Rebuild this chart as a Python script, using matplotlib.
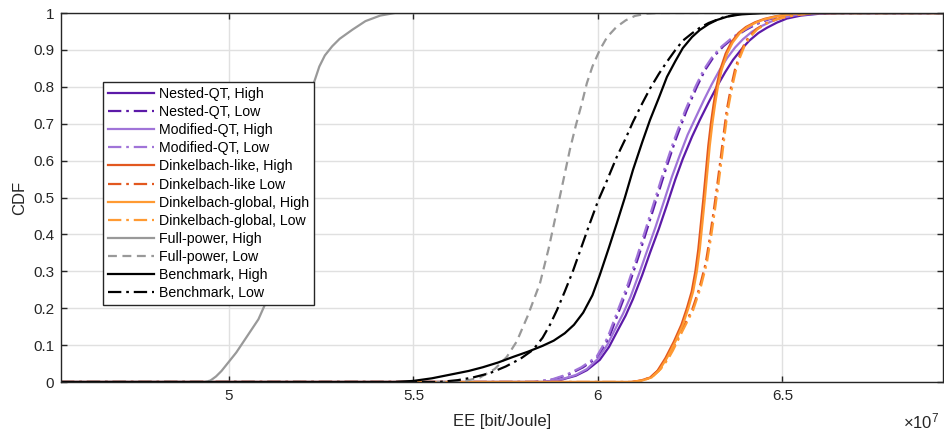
import matplotlib
matplotlib.use("Agg")
import matplotlib.pyplot as plt
import numpy as np

plt.rcParams['font.family'] = ['Liberation Sans', 'DejaVu Sans']
plt.rcParams['mathtext.fontset'] = 'custom'
plt.rcParams['mathtext.rm'] = 'Liberation Sans'

# ---- data (EE in units of 1e7 bit/Joule, CDF) ----
labels = ["Nested-QT, High", "Nested-QT, Low", "Modified-QT, High", "Modified-QT, Low",
          "Dinkelbach-like, High", "Dinkelbach-like Low", "Dinkelbach-global, High",
          "Dinkelbach-global, Low", "Full-power, High", "Full-power, Low",
          "Benchmark, High", "Benchmark, Low"]

nested_high_x = [4.545, 5.85, 5.90, 5.94, 5.97, 6.005, 6.03, 6.051, 6.075, 6.095, 6.12, 6.141, 6.165, 6.187, 6.21, 6.23, 6.255, 6.276, 6.30, 6.322, 6.345, 6.366, 6.39, 6.41, 6.435, 6.458, 6.485, 6.512, 6.55, 6.60, 6.65, 6.935]
nested_high_y = [0, 0, 0.006, 0.017, 0.032, 0.06, 0.095, 0.135, 0.18, 0.225, 0.29, 0.35, 0.415, 0.48, 0.55, 0.605, 0.665, 0.71, 0.758, 0.8, 0.84, 0.873, 0.903, 0.925, 0.946, 0.96, 0.974, 0.985, 0.993, 0.998, 1.0, 1.0]

nested_low_x = [4.545, 5.83, 5.88, 5.92, 5.96, 6.0, 6.03, 6.06, 6.085, 6.11, 6.135, 6.16, 6.185, 6.21, 6.24, 6.268, 6.29, 6.315, 6.34, 6.37, 6.40, 6.43, 6.46, 6.50, 6.55, 6.60, 6.935]
nested_low_y = [0, 0, 0.007, 0.02, 0.04, 0.068, 0.12, 0.2, 0.265, 0.34, 0.42, 0.5, 0.58, 0.655, 0.735, 0.8, 0.845, 0.883, 0.91, 0.935, 0.954, 0.97, 0.982, 0.992, 0.998, 1.0, 1.0]

modified_high_x = [4.545, 5.85, 5.90, 5.94, 5.97, 6.0, 6.025, 6.045, 6.068, 6.088, 6.112, 6.133, 6.156, 6.178, 6.20, 6.22, 6.243, 6.264, 6.287, 6.308, 6.33, 6.35, 6.372, 6.393, 6.417, 6.44, 6.467, 6.495, 6.535, 6.59, 6.64, 6.935]
modified_high_y = [0, 0, 0.007, 0.019, 0.035, 0.063, 0.1, 0.14, 0.185, 0.23, 0.295, 0.355, 0.42, 0.487, 0.555, 0.61, 0.67, 0.715, 0.764, 0.806, 0.846, 0.878, 0.907, 0.929, 0.949, 0.963, 0.976, 0.986, 0.994, 0.998, 1.0, 1.0]

modified_low_x = [4.545, 5.825, 5.875, 5.915, 5.955, 5.996, 6.026, 6.056, 6.081, 6.106, 6.131, 6.156, 6.181, 6.206, 6.236, 6.264, 6.286, 6.311, 6.336, 6.366, 6.396, 6.426, 6.456, 6.496, 6.546, 6.60, 6.935]
modified_low_y = [0, 0, 0.007, 0.02, 0.04, 0.068, 0.12, 0.2, 0.265, 0.34, 0.42, 0.5, 0.58, 0.655, 0.735, 0.8, 0.845, 0.883, 0.91, 0.935, 0.954, 0.97, 0.982, 0.992, 0.998, 1.0, 1.0]

dlike_high_x = [4.545, 6.09, 6.116, 6.141, 6.161, 6.183, 6.206, 6.226, 6.241, 6.254, 6.264, 6.272, 6.279, 6.286, 6.293, 6.299, 6.306, 6.313, 6.321, 6.331, 6.346, 6.361, 6.381, 6.401, 6.426, 6.451, 6.481, 6.516, 6.56, 6.935]
dlike_high_y = [0, 0, 0.004, 0.012, 0.03, 0.065, 0.11, 0.155, 0.2, 0.245, 0.3, 0.36, 0.43, 0.5, 0.575, 0.64, 0.7, 0.75, 0.8, 0.845, 0.89, 0.92, 0.946, 0.962, 0.975, 0.984, 0.991, 0.996, 1.0, 1.0]

dlike_low_x = [4.545, 6.092, 6.117, 6.142, 6.167, 6.187, 6.2, 6.227, 6.255, 6.275, 6.292, 6.303, 6.314, 6.324, 6.333, 6.341, 6.349, 6.357, 6.363, 6.372, 6.382, 6.394, 6.407, 6.429, 6.455, 6.482, 6.509, 6.547, 6.59, 6.935]
dlike_low_y = [0, 0, 0.004, 0.012, 0.035, 0.062, 0.085, 0.14, 0.195, 0.255, 0.322, 0.39, 0.466, 0.54, 0.61, 0.675, 0.737, 0.78, 0.81, 0.85, 0.88, 0.91, 0.933, 0.956, 0.972, 0.983, 0.99, 0.996, 1.0, 1.0]

dglob_high_x = [4.545, 6.095, 6.12, 6.145, 6.165, 6.187, 6.21, 6.23, 6.245, 6.258, 6.268, 6.276, 6.283, 6.29, 6.297, 6.303, 6.31, 6.317, 6.325, 6.335, 6.35, 6.365, 6.385, 6.405, 6.43, 6.455, 6.485, 6.52, 6.56, 6.935]
dglob_high_y = [0, 0, 0.004, 0.012, 0.03, 0.065, 0.11, 0.155, 0.2, 0.245, 0.3, 0.36, 0.43, 0.5, 0.575, 0.64, 0.7, 0.75, 0.8, 0.845, 0.89, 0.92, 0.946, 0.962, 0.975, 0.984, 0.991, 0.996, 1.0, 1.0]

dglob_low_x = [4.545, 6.095, 6.12, 6.145, 6.17, 6.19, 6.203, 6.23, 6.258, 6.278, 6.295, 6.306, 6.317, 6.327, 6.336, 6.344, 6.352, 6.36, 6.366, 6.375, 6.385, 6.397, 6.41, 6.432, 6.458, 6.485, 6.512, 6.55, 6.59, 6.935]
dglob_low_y = [0, 0, 0.004, 0.012, 0.035, 0.062, 0.085, 0.14, 0.195, 0.255, 0.322, 0.39, 0.466, 0.54, 0.61, 0.675, 0.737, 0.78, 0.81, 0.85, 0.88, 0.91, 0.933, 0.956, 0.972, 0.983, 0.99, 0.996, 1.0, 1.0]

fp_high_x = [4.545, 4.935, 4.95, 4.965, 4.98, 5.0, 5.02, 5.04, 5.06, 5.08, 5.10, 5.12, 5.14, 5.16, 5.18, 5.20, 5.215, 5.23, 5.245, 5.26, 5.28, 5.30, 5.335, 5.37, 5.41, 5.45, 6.935]
fp_high_y = [0, 0, 0.004, 0.015, 0.03, 0.055, 0.08, 0.11, 0.14, 0.17, 0.215, 0.29, 0.39, 0.5, 0.61, 0.7, 0.76, 0.81, 0.855, 0.885, 0.91, 0.93, 0.955, 0.978, 0.993, 1.0, 1.0]

fp_low_x = [4.545, 5.60, 5.64, 5.68, 5.72, 5.753, 5.78, 5.81, 5.843, 5.866, 5.889, 5.907, 5.924, 5.94, 5.955, 5.97, 5.985, 6.005, 6.025, 6.05, 6.075, 6.10, 6.13, 6.16, 6.935]
fp_low_y = [0, 0, 0.003, 0.012, 0.035, 0.068, 0.11, 0.18, 0.268, 0.36, 0.466, 0.55, 0.63, 0.695, 0.75, 0.81, 0.855, 0.9, 0.935, 0.962, 0.98, 0.992, 0.998, 1.0, 1.0]

bm_high_x = [4.545, 5.45, 5.50, 5.55, 5.60, 5.65, 5.688, 5.73, 5.77, 5.81, 5.85, 5.88, 5.91, 5.935, 5.96, 5.985, 6.005, 6.03, 6.051, 6.073, 6.095, 6.12, 6.141, 6.165, 6.187, 6.21, 6.23, 6.255, 6.276, 6.30, 6.322, 6.35, 6.385, 6.45, 6.935]
bm_high_y = [0, 0, 0.003, 0.01, 0.02, 0.03, 0.04, 0.053, 0.068, 0.082, 0.098, 0.112, 0.132, 0.155, 0.188, 0.235, 0.29, 0.365, 0.43, 0.5, 0.575, 0.65, 0.71, 0.77, 0.827, 0.87, 0.905, 0.935, 0.954, 0.97, 0.981, 0.99, 0.996, 1.0, 1.0]

bm_low_x = [4.545, 5.57, 5.62, 5.66, 5.707, 5.75, 5.79, 5.824, 5.85, 5.87, 5.889, 5.91, 5.932, 5.955, 5.978, 6.0, 6.024, 6.051, 6.075, 6.095, 6.12, 6.141, 6.165, 6.187, 6.21, 6.23, 6.255, 6.276, 6.30, 6.339, 6.37, 6.41, 6.935]
bm_low_y = [0, 0, 0.005, 0.012, 0.024, 0.042, 0.063, 0.087, 0.12, 0.155, 0.195, 0.245, 0.30, 0.365, 0.43, 0.49, 0.545, 0.61, 0.66, 0.705, 0.755, 0.795, 0.835, 0.868, 0.9, 0.925, 0.945, 0.96, 0.973, 0.988, 0.995, 1.0, 1.0]

xticks = [5.0, 5.5, 6.0, 6.5]
xticklabels = ["5", "5.5", "6", "6.5"]
yticks = [0, 0.1, 0.2, 0.3, 0.4, 0.5, 0.6, 0.7, 0.8, 0.9, 1.0]
yticklabels = ["0", "0.1", "0.2", "0.3", "0.4", "0.5", "0.6", "0.7", "0.8", "0.9", "1"]

series_x = [nested_high_x, nested_low_x, modified_high_x, modified_low_x,
            dlike_high_x, dlike_low_x, dglob_high_x, dglob_low_x,
            fp_high_x, fp_low_x, bm_high_x, bm_low_x]
series_y = [nested_high_y, nested_low_y, modified_high_y, modified_low_y,
            dlike_high_y, dlike_low_y, dglob_high_y, dglob_low_y,
            fp_high_y, fp_low_y, bm_high_y, bm_low_y]

colors = ["#5c1aa8", "#5c1aa8", "#a074d8", "#a074d8",
          "#e2581f", "#e2581f", "#ff9a32", "#ff9a32",
          "#999999", "#999999", "#000000", "#000000"]
dashdot = (0, (6, 2.2, 1.2, 2.2))
styles = ["-", dashdot, "-", dashdot,
          "-", dashdot, "-", dashdot,
          "-", (0, (4, 2.5)), "-", dashdot]

fig = plt.figure(figsize=(9.45, 4.32), dpi=100)
ax = fig.add_axes([61/945, 50/432, 882/945, 369/432])

for sx, sy, c, ls, lab in zip(series_x, series_y, colors, styles, labels):
    x = np.array(sx) * 1e7
    ax.plot(x, sy, color=c, linestyle=ls, linewidth=1.6, label=lab,
            solid_joinstyle="round")

ax.set_xlim(4.545e7, 6.935e7)
ax.set_ylim(0, 1)
ax.set_xticks([v * 1e7 for v in xticks])
ax.set_xticklabels(xticklabels)
ax.set_yticks(yticks)
ax.set_yticklabels(yticklabels)

ax.grid(True, color="#e0e0e0", linewidth=1.0)
ax.set_axisbelow(True)
for s in ax.spines.values():
    s.set_color("#262626")
    s.set_linewidth(1.0)
ax.tick_params(direction="in", top=True, right=True, length=4, width=1.0,
               colors="#262626", labelsize=11, pad=5)

ax.set_xlabel("EE [bit/Joule]", fontsize=12, color="#262626", labelpad=8)
ax.set_ylabel("CDF", fontsize=12, color="#262626", labelpad=4)

fig.text(939/945, 1 - 428/432, r"$\times\mathregular{10^{7}}$", fontsize=12,
         color="#262626", ha="right", va="baseline")

leg = ax.legend(loc="upper left", bbox_to_anchor=(42/882, 300/369), borderaxespad=0,
                fontsize=10.2, frameon=True, fancybox=False, framealpha=1,
                edgecolor="#262626", handlelength=3.25, handletextpad=0.35,
                labelspacing=0.29, borderpad=0.35)
leg.get_frame().set_linewidth(1.0)

fig.savefig("out.png", dpi=100)
